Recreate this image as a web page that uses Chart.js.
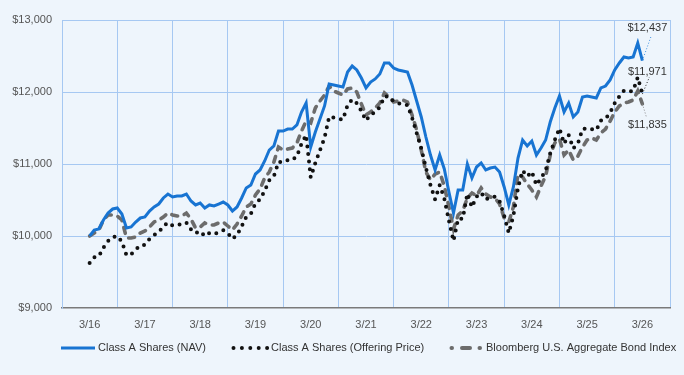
<!DOCTYPE html>
<html lang="en">
<head>
<meta charset="UTF-8">
<title>Growth of $10,000</title>
<script src="https://cdn.jsdelivr.net/npm/chart.js"></script>
<style>
  html, body { margin: 0; padding: 0; background: #eef5fc; }
  #wrap { width: 684px; height: 375px; position: relative; }
</style>
</head>
<body>
<div id="wrap"><canvas id="growthChart"></canvas></div>
<script>
  // tick labels (one per year, March)
  const xLabels = ['3/16', '3/17', '3/18', '3/19', '3/20', '3/21', '3/22', '3/23', '3/24', '3/25', '3/26'];
  const yTicks = [9000, 10000, 11000, 12000, 13000];
  const seriesNames = ['Class A Shares (NAV)', 'Class A Shares (Offering Price)', 'Bloomberg U.S. Aggregate Bond Index'];

  // monthly values, 3/16 .. 3/26
  const nav = [
    10000, 10083, 10097, 10222, 10319, 10375, 10389, 10306, 10111, 10125, 10194, 10250, 10264,
    10347, 10403, 10444, 10528, 10583, 10542, 10556, 10556, 10583, 10486, 10431, 10458,
    10389, 10431, 10417, 10444, 10472, 10431, 10347, 10403, 10528, 10667, 10708, 10861,
    10917, 11042, 11194, 11250, 11458, 11458, 11486, 11486, 11542, 11722, 11847, 11236,
    11444, 11625, 11806, 12111, 12097, 12083, 12069, 12278, 12361, 12306, 12194, 12056,
    12139, 12181, 12250, 12403, 12403, 12333, 12306, 12292, 12278, 12097, 11875, 11653,
    11375, 11125, 10917, 11125, 10931, 10611, 10319, 10639, 10639, 11000, 10806, 10958,
    11014, 10917, 10944, 10958, 10889, 10681, 10431, 10681, 11083, 11333, 11250, 11319,
    11125, 11222, 11333, 11583, 11778, 11944, 11722, 11847, 11653, 11722, 11931, 11944,
    11931, 11917, 12056, 12083, 12167, 12306, 12403, 12486, 12472, 12486, 12681, 12437
  ];
  const offering = [
    9625, 9705, 9718, 9839, 9932, 9986, 9999, 9920, 9732, 9745, 9812, 9866, 9879,
    9959, 10013, 10052, 10133, 10186, 10147, 10160, 10160, 10186, 10093, 10040, 10066,
    9999, 10040, 10026, 10052, 10079, 10040, 9959, 10013, 10133, 10267, 10306, 10454,
    10508, 10628, 10774, 10828, 11028, 11028, 11055, 11055, 11109, 11282, 11403, 10815,
    11015, 11189, 11363, 11657, 11643, 11630, 11616, 11818, 11897, 11845, 11737, 11604,
    11684, 11724, 11791, 11938, 11938, 11871, 11845, 11831, 11818, 11643, 11430, 11216,
    10948, 10708, 10508, 10708, 10521, 10213, 9932, 10240, 10240, 10588, 10401, 10547,
    10601, 10508, 10534, 10547, 10481, 10281, 10040, 10281, 10667, 10908, 10828, 10895,
    10708, 10801, 10908, 11149, 11336, 11496, 11282, 11403, 11216, 11282, 11484, 11496,
    11484, 11470, 11604, 11630, 11711, 11845, 11938, 12018, 12004, 12018, 12206, 11971
  ];
  const bondIndex = [
    10000, 10042, 10083, 10222, 10292, 10292, 10278, 10222, 9972, 9972, 9986, 10042, 10069,
    10125, 10194, 10222, 10264, 10319, 10292, 10278, 10278, 10319, 10236, 10111, 10125,
    10181, 10153, 10153, 10181, 10194, 10139, 10083, 10167, 10278, 10403, 10444, 10569,
    10653, 10806, 10889, 11028, 11236, 11194, 11208, 11222, 11292, 11458, 11597, 11569,
    11778, 11875, 11958, 12083, 12014, 11986, 11958, 12042, 12056, 12000, 11833, 11681,
    11722, 11778, 11847, 11986, 11931, 11861, 11875, 11889, 11861, 11681, 11472, 11194,
    10889, 10778, 10861, 10889, 10694, 10403, 10097, 10292, 10347, 10528, 10597, 10556,
    10667, 10583, 10542, 10528, 10444, 10250, 10194, 10403, 10861, 10819, 10722, 10639,
    10542, 10694, 10833, 11125, 11292, 11347, 11125, 11194, 11056, 11111, 11236, 11333,
    11361, 11333, 11431, 11486, 11597, 11722, 11806, 11847, 11861, 11889, 12014, 11835
  ];

  const navBlue = '#1874d2';
  const dotBlack = '#111111';
  const bondGray = '#6c6c6c';
  const gridBlue = '#a6c8f2';
  const fontFamily = '"Liberation Sans", Arial, sans-serif';

  Chart.defaults.font.family = fontFamily;
  Chart.defaults.font.size = 11;
  Chart.defaults.color = '#555555';

  const toPoints = arr => arr.map((v, i) => ({ x: i, y: v }));
  const money = v => '$' + v.toLocaleString('en-US');

  // end-of-period value labels with dotted leader lines
  const endLabels = {
    id: 'endLabels',
    afterDatasetsDraw(chart) {
      const ctx = chart.ctx;
      const spots = [
        { lx: 9, ly: -25, tx: 5, ty: -33, color: '#3d8fe0' },
        { lx: 7, ly: -17, tx: 5, ty: -22, color: '#222222' },
        { lx: 4, ly: 13, tx: 5, ty: 21, color: '#888888' }
      ];
      ctx.save();
      ctx.font = '11px ' + fontFamily;
      ctx.textAlign = 'center';
      ctx.textBaseline = 'middle';
      spots.forEach((s, i) => {
        const meta = chart.getDatasetMeta(i);
        const pt = meta.data[meta.data.length - 1];
        const vals = chart.data.datasets[i].data;
        ctx.strokeStyle = s.color;
        ctx.lineWidth = 1;
        ctx.setLineDash([1, 2]);
        ctx.beginPath();
        ctx.moveTo(pt.x, pt.y);
        ctx.lineTo(pt.x + s.lx, pt.y + s.ly);
        ctx.stroke();
        ctx.setLineDash([]);
        ctx.fillStyle = '#333333';
        ctx.fillText(money(vals[vals.length - 1].y), pt.x + s.tx, pt.y + s.ty);
      });
      ctx.restore();
    }
  };

  // legend row under the axis
  const lineLegend = {
    id: 'lineLegend',
    afterDraw(chart) {
      const ctx = chart.ctx;
      const y = 348;
      ctx.save();
      ctx.strokeStyle = navBlue;
      ctx.lineWidth = 3;
      ctx.beginPath(); ctx.moveTo(61, y); ctx.lineTo(95, y); ctx.stroke();

      ctx.strokeStyle = dotBlack;
      ctx.lineWidth = 4;
      ctx.lineCap = 'round';
      ctx.setLineDash([0, 8.4]);
      ctx.beginPath(); ctx.moveTo(233.5, y); ctx.lineTo(267.5, y); ctx.stroke();

      ctx.setLineDash([]);
      ctx.strokeStyle = bondGray;
      ctx.beginPath();
      ctx.moveTo(451.5, y); ctx.lineTo(452, y);
      ctx.moveTo(462, y); ctx.lineTo(470, y);
      ctx.moveTo(479.5, y); ctx.lineTo(480, y);
      ctx.stroke();

      ctx.fillStyle = '#333333';
      ctx.font = '11px ' + fontFamily;
      ctx.textBaseline = 'middle';
      ctx.fillText(seriesNames[0], 98, y);
      ctx.fillText(seriesNames[1], 271, y);
      ctx.fillText(seriesNames[2], 486, y);
      ctx.restore();
    }
  };

  const ctx = document.getElementById('growthChart').getContext('2d');
  new Chart(ctx, {
    type: 'line',
    data: {
      datasets: [
        {
          label: seriesNames[0],
          data: toPoints(nav),
          borderColor: navBlue,
          borderWidth: 3,
          pointRadius: 0,
          tension: 0
        },
        {
          label: seriesNames[1],
          data: toPoints(offering),
          borderColor: dotBlack,
          borderWidth: 4,
          borderDash: [0, 7.6],
          borderCapStyle: 'round',
          pointRadius: 0,
          tension: 0
        },
        {
          label: seriesNames[2],
          data: toPoints(bondIndex),
          borderColor: bondGray,
          borderWidth: 3.6,
          borderDash: [6, 7],
          borderCapStyle: 'round',
          pointRadius: 0,
          tension: 0
        }
      ]
    },
    options: {
      responsive: true,
      maintainAspectRatio: false,
      animation: false,
      layout: { padding: { top: 20, right: 14, bottom: 0, left: 0 } },
      plugins: {
        legend: { display: false },
        tooltip: { enabled: false }
      },
      scales: {
        x: {
          type: 'linear',
          min: -6,
          max: 126,
          afterBuildTicks: axis => {
            const t = [];
            for (let v = -6; v <= 126; v += 6) t.push({ value: v });
            axis.ticks = t;
          },
          afterFit: scale => { scale.height = 67; },
          ticks: {
            autoSkip: false,
            maxRotation: 0,
            padding: 10,
            callback: v => (v % 12 === 0 ? xLabels[v / 12] : '')
          },
          grid: {
            color: c => (c.tick && c.tick.value % 12 === 0 ? 'rgba(0,0,0,0)' : gridBlue),
            drawTicks: false
          },
          border: { color: '#7a7a7a', width: 1.5 }
        },
        y: {
          min: 9000,
          max: 13000,
          afterBuildTicks: axis => { axis.ticks = yTicks.map(v => ({ value: v })); },
          afterFit: scale => { scale.width = 62; },
          ticks: {
            padding: 10,
            callback: v => money(v)
          },
          grid: {
            color: c => (c.tick && c.tick.value === 9000 ? 'rgba(0,0,0,0)' : gridBlue),
            drawTicks: false
          },
          border: { color: gridBlue }
        }
      }
    },
    plugins: [endLabels, lineLegend]
  });
</script>
</body>
</html>
